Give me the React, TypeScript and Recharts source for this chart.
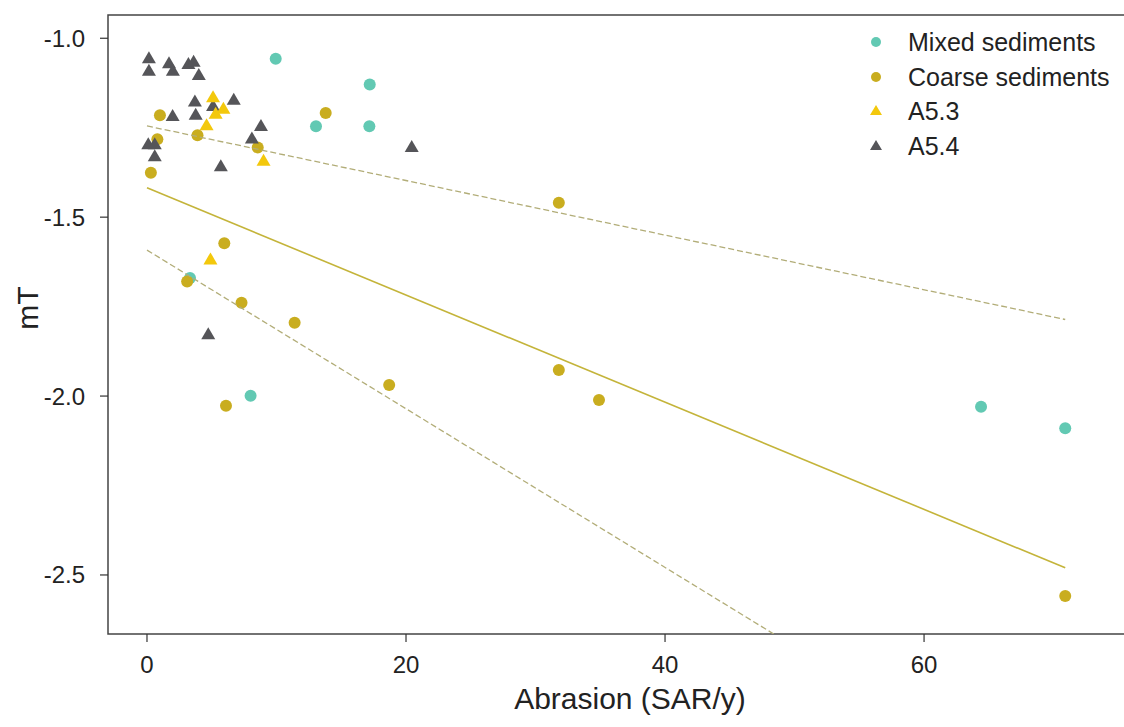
import React from 'react';
import { ScatterChart, Scatter, XAxis, YAxis, ReferenceArea } from 'recharts';

// abrasion (x) and mT (y) per habitat group
const mixedX = [9.94, 17.2, 13.05, 17.17, 3.32, 8.0, 64.4, 70.9];
const mixedY = [-1.057, -1.129, -1.246, -1.246, -1.67, -1.999, -2.03, -2.09];

const coarseX = [1.0, 0.8, 0.3, 3.9, 8.55, 13.8, 31.8, 5.97, 3.1, 7.3, 11.4, 6.1, 18.7, 31.8, 34.9, 70.9];
const coarseY = [-1.215, -1.282, -1.376, -1.271, -1.305, -1.209, -1.46, -1.573, -1.68, -1.739, -1.795, -2.027, -1.969, -1.927, -2.011, -2.559];

const a53X = [5.1, 5.9, 5.3, 4.6, 9.0, 4.9];
const a53Y = [-1.165, -1.197, -1.211, -1.243, -1.342, -1.618];

const a54X = [0.15, 0.15, 1.7, 2.0, 3.2, 3.6, 4.0, 3.7, 3.76, 1.98, 6.7, 5.1, 8.8, 8.1, 0.1, 0.6, 0.6, 5.7, 20.44, 4.73];
const a54Y = [-1.056, -1.091, -1.07, -1.091, -1.072, -1.066, -1.103, -1.177, -1.214, -1.217, -1.172, -1.189, -1.245, -1.28, -1.296, -1.296, -1.33, -1.358, -1.304, -1.827];

// fitted line and its two bounds (end points)
const fitX = [0, 70.9];
const fitMid = [-1.418, -2.48];
const fitUpper = [-1.245, -1.786];
const fitLower = [-1.592, -3.164];

const xTicks = [0, 20, 40, 60];
const yTicks = [-1.0, -1.5, -2.0, -2.5];
const xDomain = [-3.01, 77.6];
const yDomain = [-2.665, -0.935];

const legendLabels = ['Mixed sediments', 'Coarse sediments', 'A5.3', 'A5.4'];

const TEAL = '#62c9b3';
const GOLD = '#c9ad1f';
const YELLOW = '#f3c80c';
const GREY = '#555559';
const LINE = '#c4b43a';
const DASH = '#b2ad78';

const FONT = '"Liberation Sans", Arial, sans-serif';

const toPoints = (xs: number[], ys: number[]) => xs.map((x, i) => ({ x, y: ys[i] }));

const circle = (color: string) => (props: any) =>
  <circle cx={props.cx} cy={props.cy} r={6} fill={color} />;

const triangle = (color: string) => (props: any) => {
  const { cx, cy } = props;
  return <polygon points={`${cx},${cy - 7} ${cx - 7},${cy + 5} ${cx + 7},${cy + 5}`} fill={color} />;
};

const noDot = () => <g />;

const legendShapes = [
  <circle cx={8} cy={8} r={5} fill={TEAL} />,
  <circle cx={8} cy={8} r={5} fill={GOLD} />,
  <polygon points="8,2 2,12 14,12" fill={YELLOW} />,
  <polygon points="8,2 2,12 14,12" fill={GREY} />,
];

export default function App() {
  return (
    <div style={{ position: 'absolute', left: 0, top: 0, width: 1124, height: 727, overflow: 'hidden', background: '#fff', fontFamily: FONT }}>
      <ScatterChart width={1160} height={727} margin={{ top: 15, right: 8, bottom: 33, left: 8 }}>
        <XAxis
          type="number"
          dataKey="x"
          domain={xDomain}
          ticks={xTicks}
          allowDataOverflow
          axisLine={false}
          tickSize={8}
          tickMargin={14}
          height={60}
          tick={{ fontSize: 24, fill: '#222', fontFamily: FONT }}
          tickLine={{ stroke: '#333', strokeWidth: 1.2 }}
          label={{ value: 'Abrasion (SAR/y)', position: 'bottom', offset: -6, style: { fontSize: 30, fill: '#222', fontFamily: FONT } }}
        />
        <YAxis
          type="number"
          dataKey="y"
          domain={yDomain}
          ticks={yTicks}
          allowDataOverflow
          axisLine={false}
          width={100}
          tickSize={8}
          tickMargin={15}
          tickFormatter={(v: number) => v.toFixed(1)}
          tick={{ fontSize: 24, fill: '#222', fontFamily: FONT }}
          tickLine={{ stroke: '#333', strokeWidth: 1.2 }}
        />
        <ReferenceArea x1={xDomain[0]} x2={xDomain[1]} y1={yDomain[0]} y2={yDomain[1]} fill="none" stroke="#444" strokeWidth={1.5} fillOpacity={0} />
        <Scatter data={toPoints(mixedX, mixedY)} shape={circle(TEAL)} isAnimationActive={false} />
        <Scatter data={toPoints(coarseX, coarseY)} shape={circle(GOLD)} isAnimationActive={false} />
        <Scatter data={toPoints(a54X, a54Y)} shape={triangle(GREY)} isAnimationActive={false} />
        <Scatter data={toPoints(a53X, a53Y)} shape={triangle(YELLOW)} isAnimationActive={false} />
        <Scatter data={toPoints(fitX, fitUpper)} line={{ stroke: DASH, strokeWidth: 1.3, strokeDasharray: '6 3' }} shape={noDot} isAnimationActive={false} />
        <Scatter data={toPoints(fitX, fitLower)} line={{ stroke: DASH, strokeWidth: 1.3, strokeDasharray: '6 3' }} shape={noDot} isAnimationActive={false} />
        <Scatter data={toPoints(fitX, fitMid)} line={{ stroke: LINE, strokeWidth: 1.6 }} shape={noDot} isAnimationActive={false} />
      </ScatterChart>
      <svg width={60} height={727} style={{ position: 'absolute', left: 0, top: 0 }}>
        <text x={38} y={308} transform="rotate(-90 38 308)" textAnchor="middle" fontSize={30} fill="#222" fontFamily={FONT}>mT</text>
      </svg>
      <div style={{ position: 'absolute', left: 868, top: 25, fontSize: 25, color: '#222', lineHeight: '34.5px' }}>
        {legendLabels.map((name, i) => (
          <div key={name} style={{ display: 'flex', alignItems: 'center' }}>
            <svg width={16} height={16} style={{ marginRight: 24 }}>{legendShapes[i]}</svg>
            <span>{name}</span>
          </div>
        ))}
      </div>
    </div>
  );
}
